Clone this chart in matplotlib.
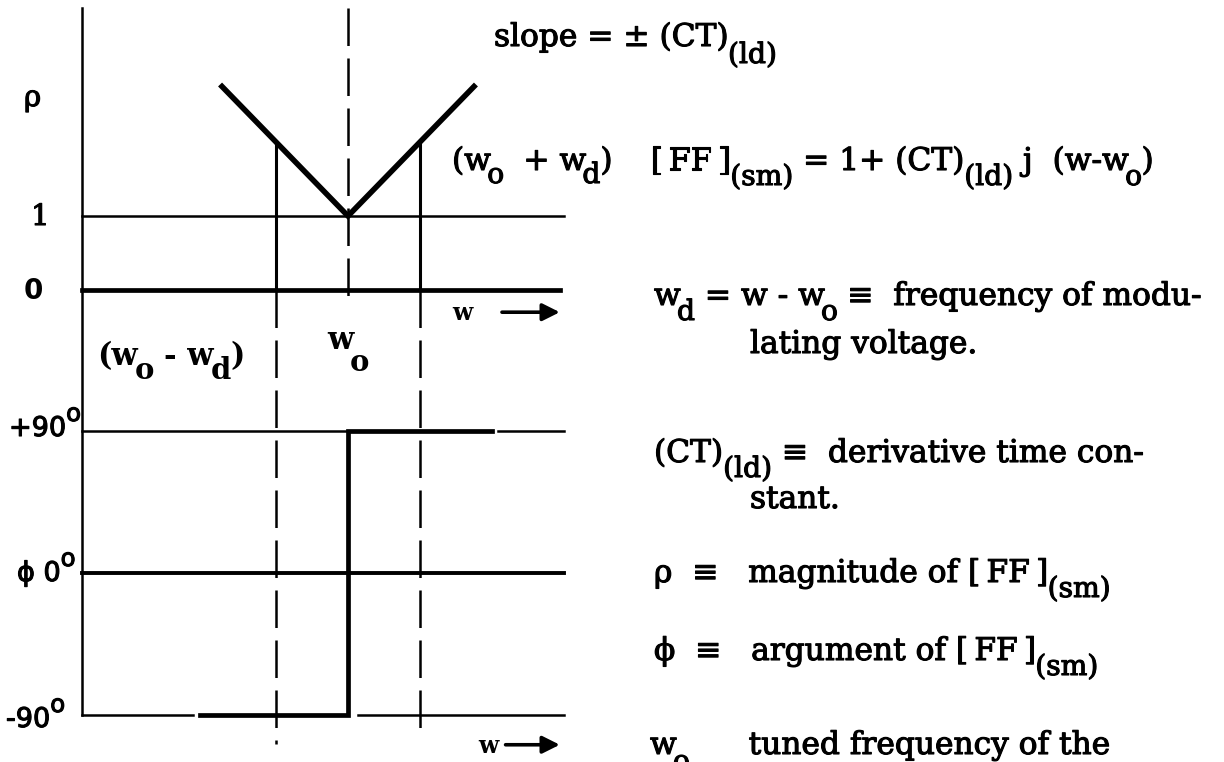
import re
import matplotlib.pyplot as plt
from matplotlib.patheffects import withStroke

plt.rcParams['font.family'] = 'DejaVu Serif'

# frequency axis in units of w_d, centred on w_o
w_left, w_right = -3.7, 3.0
w_d = 1.0

# magnitude rho = 1 + (CT)|w - w_o|, with (CT) = 1
w_mag = [-1.75, 0.0, 1.75]
rho_mag = [2.75, 1.0, 2.75]
w_side = [-w_d, w_d]
rho_side = [2.0, 2.0]
rho_top = 3.81

# phase phi (degrees)
w_phase = [-2.05, 0.0, 0.0, 2.0]
phi_phase = [-90, -90, 90, 90]

W, H = 1224, 762
fig = plt.figure(figsize=(W / 100, H / 100), dpi=100)
rend = fig.canvas.get_renderer()

# both panels share the horizontal scale: 72 px per w_d, w_o at x = 348
xl = (-348 / 72, (W - 348) / 72)
ax_mag = fig.add_axes([0, 0, 1, 1])
ax_mag.set_xlim(*xl)
ax_mag.set_ylim((290 - H) / 74, 290 / 74)
ax_ph = fig.add_axes([0, 0, 1, 1])
ax_ph.set_xlim(*xl)
ax_ph.set_ylim((573 - H) / 1.583, 573 / 1.583)
for ax in (ax_mag, ax_ph):
    ax.axis('off')
    ax.patch.set_visible(False)

thick, thin = 3.4, 1.8
dash = (0, (15, 5))

# --- magnitude plot
ax_mag.plot([w_left, w_left], [rho_top, 0], 'k', lw=thin)
ax_mag.plot([w_left, w_right], [1, 1], 'k', lw=thin)
ax_mag.plot([w_left, 2.95], [0, 0], 'k', lw=thick)
ax_mag.plot(w_mag, rho_mag, 'k', lw=thick + 0.6, solid_joinstyle='miter')
for w, r in zip(w_side, rho_side):
    ax_mag.plot([w, w], [0, r], 'k', lw=thin + 0.4)
ax_mag.plot([0, 0], [rho_top, -0.2], 'k', lw=thin, linestyle=dash)
ax_mag.annotate('', xy=(2.98, -0.30), xytext=(2.1, -0.30),
                arrowprops=dict(arrowstyle='-|>', lw=2.6, color='k', mutation_scale=26))

# --- phase plot
ax_ph.plot([w_left, w_left], [179, -90], 'k', lw=thin)
ax_ph.plot([w_left, 0], [90, 90], 'k', lw=thin)
ax_ph.plot([2.08, w_right], [90, 90], 'k', lw=thin)
ax_ph.plot([w_left, w_right], [0, 0], 'k', lw=thick - 0.6)
ax_ph.plot([w_left, -2.15], [-90, -90], 'k', lw=thin)
ax_ph.plot([0.14, w_right], [-90, -90], 'k', lw=thin)
ax_ph.plot(w_phase, phi_phase, 'k', lw=thick, solid_joinstyle='miter')
ax_ph.plot([-w_d, -w_d], [179, -108], 'k', lw=thin, linestyle=dash)
ax_ph.plot([w_d, w_d], [179, -102], 'k', lw=thin, linestyle=dash)
ax_ph.annotate('', xy=(2.98, -108.5), xytext=(2.15, -108.5),
               arrowprops=dict(arrowstyle='-|>', lw=2.6, color='k', mutation_scale=26))

# --- text with big typewriter style sub/superscripts: a_{sub}, a^{sup}
TOK = re.compile(r'_\{([^}]*)\}|\^\{([^}]*)\}')
ink = [withStroke(linewidth=0.8, foreground='k')]


def advance(s, fs, **kw):
    a = fig.text(0, 0, '.' + s + '.', fontsize=fs, **kw)
    b = fig.text(0, 0, '..', fontsize=fs, **kw)
    w = a.get_window_extent(rend).width - b.get_window_extent(rend).width
    a.remove()
    b.remove()
    return w


def write(x, y, src, size=22.5, drop=14, rise=12, ratio=0.9, **kw):
    pieces, pos = [], 0
    for m in TOK.finditer(src):
        if m.start() > pos:
            pieces.append((src[pos:m.start()], 0))
        pieces.append((m.group(1), 1) if m.group(1) is not None else (m.group(2), -1))
        pos = m.end()
    if pos < len(src):
        pieces.append((src[pos:], 0))
    for s, k in pieces:
        fs = size if k == 0 else size * ratio
        yy = y + (drop if k == 1 else -rise if k == -1 else 0)
        lead = len(s) - len(s.lstrip(' '))
        x0 = x + (advance(' ' * lead, fs, **kw) if lead else 0)
        if s.strip():
            fig.text(x0 / W, 1 - yy / H, s.strip(), fontsize=fs,
                     va='baseline', ha='left', **kw)
        x += advance(s, fs, **kw)


sans = dict(family='DejaVu Sans', path_effects=ink)
# axis labels
write(24, 106, 'ρ', size=21, path_effects=ink)
write(31, 225, '1', size=21, path_effects=ink)
write(24, 299, '0', size=20, weight='bold', family='DejaVu Sans')
write(9, 436, '+90^{o}', size=19.5, rise=15, **sans)
write(17, 581, 'ϕ 0^{o}', size=19.5, rise=15, **sans)
write(6, 727, '-90^{o}', size=19.5, rise=15, **sans)
write(452, 320, 'w', size=17, weight='bold')
write(478, 753, 'w', size=17, weight='bold')
write(97, 365, '(w_{o} - w_{d})', size=22, weight='bold', drop=14, ratio=0.95)
write(327, 349, 'w_{o}', size=22, weight='bold', drop=22, ratio=0.95)

# formulas and definitions
write(494, 46, 'slope = ± (CT)_{(ld)}', drop=17, path_effects=ink)
write(452, 170, '(w_{o}  + w_{d})', drop=13, path_effects=ink)
write(650, 170, '[\u2009FF\u2009]_{(sm)} = 1+ (CT)_{(ld)} j  (w-w_{o})', drop=15, path_effects=ink)
write(654, 305, 'w_{d} = w - w_{o} ≡  frequency of modu-', drop=15, path_effects=ink)
write(750, 353, 'lating voltage.', path_effects=ink)
write(654, 462, '(CT)_{(ld)} ≡  derivative time con-', drop=15, path_effects=ink)
write(750, 508, 'stant.', path_effects=ink)
write(654, 582, 'ρ  ≡   magnitude of [\u2009FF\u2009]_{(sm)}', drop=15, path_effects=ink)
write(654, 660, 'ϕ  ≡   argument of [\u2009FF\u2009]_{(sm)}', drop=15, path_effects=ink)
write(650, 754, 'w_{o}      tuned frequency of the', drop=16, path_effects=ink)

fig.savefig('out.png', dpi=100, facecolor='white')
